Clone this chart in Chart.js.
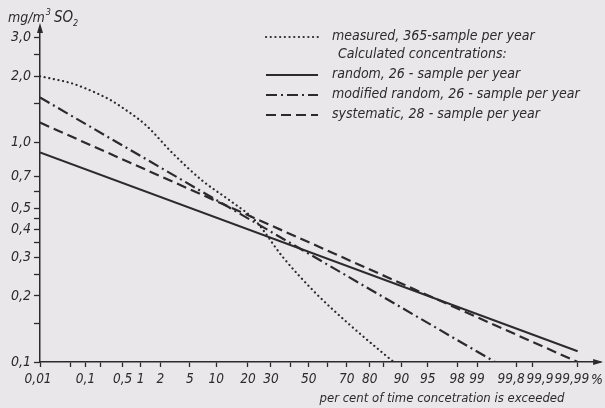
<!DOCTYPE html>
<html><head><meta charset="utf-8">
<script src="https://cdn.jsdelivr.net/npm/chart.js@4/dist/chart.umd.min.js"></script>
<style>html,body{margin:0;padding:0;background:#e9e7ea;}#wrap{width:605px;height:408px;position:relative}</style>
</head><body><div id="wrap"><canvas id="c" width="605" height="408"></canvas></div>
<script>
// ---- data (percent of time exceeded, concentration mg/m3) ----
const measuredPct = [0.01, 0.05, 0.1, 0.3, 0.6, 1.2, 3, 7, 14, 23, 36, 54, 71, 85, 88];
const measuredVal = [2.0, 1.86, 1.76, 1.56, 1.39, 1.2, 0.89, 0.67, 0.54, 0.44, 0.30, 0.205, 0.149, 0.109, 0.10];
const randomPct = [0.01, 99.99];
const randomVal = [0.90, 0.112];
const modifiedPct = [0.01, 99.5];
const modifiedVal = [1.60, 0.10];
const systematicPct = [0.01, 99.99];
const systematicVal = [1.23, 0.10];
const xTickPct = [0.01, 0.05, 0.1, 0.2, 0.5, 1, 2, 5, 10, 20, 30, 40, 50, 60, 70, 80, 85, 90, 95, 98, 99, 99.8, 99.9, 99.99];
const xTickLabels = {0.01:'0,01 ', 0.1:'0,1', 0.5:'0,5', 1:'1', 2:'2', 5:'5', 10:'10', 20:'20', 30:'30', 50:'50', 70:'70', 80:'80', 90:'90', 95:'95', 98:'98', 99:'99', 99.8:'99,8   ', 99.9:'    99,9', 99.99:'99,99   '};
const yTickVals = [3.0, 2.5, 2.0, 1.5, 1.0, 0.7, 0.6, 0.5, 0.45, 0.4, 0.35, 0.3, 0.25, 0.2, 0.15, 0.1];
const yTickLabels = {3:'3,0', 2:'2,0', 1:'1,0', 0.7:'0,7', 0.5:'0,5', 0.4:'0,4', 0.3:'0,3', 0.2:'0,2', 0.1:'0,1'};
const legendTexts = ['measured, 365-sample per year', 'Calculated concentrations:', 'random, 26 - sample per year', 'modified random, 26 - sample per year', 'systematic, 28 - sample per year'];
const yTitle = ['mg/m', '3', 'SO', '2'];
const xTitle = 'per cent of time concetration is exceeded';

// probability-paper transform: percent -> standard normal quantile
function probit(p){
  const a=[-3.969683028665376e+01,2.209460984245205e+02,-2.759285104469687e+02,1.383577518672690e+02,-3.066479806614716e+01,2.506628277459239e+00];
  const b=[-5.447609879822406e+01,1.615858368580409e+02,-1.556989798598866e+02,6.680131188771972e+01,-1.328068155288572e+01];
  const c=[-7.784894002430293e-03,-3.223964580411365e-01,-2.400758277161838e+00,-2.549732539343734e+00,4.374664141464968e+00,2.938163982698783e+00];
  const d=[7.784695709041462e-03,3.224671290700398e-01,2.445134137142996e+00,3.754408661907416e+00];
  const pl=0.02425, ph=1-pl; let q,r;
  if(p<pl){q=Math.sqrt(-2*Math.log(p));return (((((c[0]*q+c[1])*q+c[2])*q+c[3])*q+c[4])*q+c[5])/((((d[0]*q+d[1])*q+d[2])*q+d[3])*q+1);}
  if(p<=ph){q=p-0.5;r=q*q;return (((((a[0]*r+a[1])*r+a[2])*r+a[3])*r+a[4])*r+a[5])*q/(((((b[0]*r+b[1])*r+b[2])*r+b[3])*r+b[4])*r+1);}
  q=Math.sqrt(-2*Math.log(1-p));return -(((((c[0]*q+c[1])*q+c[2])*q+c[3])*q+c[4])*q+c[5])/((((d[0]*q+d[1])*q+d[2])*q+d[3])*q+1);
}
const pts = (P, V) => P.map((p, i) => ({x: probit(p/100), y: V[i]}));

const INK = '#2b2a2c';
const FONT = "'DejaVu Sans Condensed','Liberation Sans Narrow','Roboto','DejaVu Sans',sans-serif";

const decor = {
  id: 'decor',
  afterDraw(chart){
    const ctx = chart.ctx, ca = chart.chartArea;
    ctx.save();
    ctx.fillStyle = INK; ctx.strokeStyle = INK;
    // arrows
    ctx.beginPath(); ctx.moveTo(ca.left, ca.top - 5); ctx.lineTo(ca.left - 3, ca.top + 5); ctx.lineTo(ca.left + 3, ca.top + 5); ctx.closePath(); ctx.fill();
    ctx.beginPath(); ctx.moveTo(ca.right + 3, ca.bottom); ctx.lineTo(ca.right - 7, ca.bottom - 3); ctx.lineTo(ca.right - 7, ca.bottom + 3); ctx.closePath(); ctx.fill();
    // y title
    ctx.textBaseline = 'alphabetic'; ctx.textAlign = 'left';
    let x = 8;
    ctx.font = 'italic 14px ' + FONT; ctx.fillText(yTitle[0], x, 22); x += ctx.measureText(yTitle[0]).width;
    ctx.font = 'italic 9px ' + FONT; ctx.fillText(yTitle[1], x + 1, 15); x += ctx.measureText(yTitle[1]).width + 4;
    ctx.font = 'italic 15px ' + FONT; ctx.fillText(yTitle[2], x, 22); x += ctx.measureText(yTitle[2]).width;
    ctx.font = 'italic 9px ' + FONT; ctx.fillText(yTitle[3], x, 26);
    // x title and %
    ctx.font = 'italic 13px ' + FONT; ctx.textAlign = 'center'; ctx.textBaseline = 'middle';
    ctx.fillText(xTitle, 442, 399);
    ctx.font = 'italic 14px ' + FONT; ctx.fillText('%', 597, 380);
    // legend
    const rows = [{y:36, ds:0}, {y:54.5}, {y:74, ds:1}, {y:94, ds:2}, {y:114, ds:3}];
    ctx.textAlign = 'left';
    rows.forEach((r, i) => {
      if (r.ds !== undefined) {
        const d = chart.data.datasets[r.ds];
        ctx.save();
        ctx.lineWidth = d.borderWidth; ctx.lineCap = d.borderCapStyle || 'butt';
        ctx.setLineDash(d.borderDash || []);
        ctx.beginPath(); ctx.moveTo(266, r.y + 1); ctx.lineTo(318, r.y + 1); ctx.stroke();
        ctx.restore();
      }
      ctx.font = 'italic 14px ' + FONT;
      ctx.fillText(legendTexts[i], r.ds === undefined ? 338 : 332, r.y);
    });
    ctx.restore();
  }
};

new Chart(document.getElementById('c'), {
  type: 'scatter',
  data: { datasets: [
    { label: 'measured', data: pts(measuredPct, measuredVal), showLine: true, borderColor: INK, borderWidth: 2.2, borderDash: [0.1, 4.6], borderCapStyle: 'round', pointRadius: 0, tension: 0.4, cubicInterpolationMode: 'monotone' },
    { label: 'random', data: pts(randomPct, randomVal), showLine: true, borderColor: INK, borderWidth: 2, pointRadius: 0 },
    { label: 'modified random', data: pts(modifiedPct, modifiedVal), showLine: true, borderColor: INK, borderWidth: 2.2, borderDash: [11, 4, 2, 4], pointRadius: 0 },
    { label: 'systematic', data: pts(systematicPct, systematicVal), showLine: true, borderColor: INK, borderWidth: 2.2, borderDash: [10, 5], pointRadius: 0 }
  ]},
  options: {
    responsive: false, animation: false,
    layout: { padding: { top: 28, right: 4, left: 0, bottom: 0 } },
    plugins: { legend: { display: false }, tooltip: { enabled: false } },
    scales: {
      x: {
        type: 'linear', bounds: 'data', min: probit(0.0001), max: 4.03,
        afterBuildTicks: s => { s.ticks = xTickPct.map(p => ({ value: probit(p / 100) })); },
        afterFit: s => { s.height = 46; },
        grid: { drawOnChartArea: false, drawTicks: true, tickLength: 5, tickColor: INK, tickWidth: 1.3 },
        border: { display: true, color: INK, width: 1.5 },
        ticks: { autoSkip: false, maxRotation: 0, minRotation: 0, padding: 4, color: INK,
          font: { family: FONT, size: 13.5, style: 'italic' },
          callback: (v, i) => xTickLabels[xTickPct[i]] || '' }
      },
      y: {
        type: 'logarithmic', bounds: 'data', min: 0.1, max: 3.315,
        afterBuildTicks: s => { s.ticks = yTickVals.map(v => ({ value: v })); },
        afterFit: s => { s.width = 40; },
        grid: { drawOnChartArea: false, drawTicks: true, tickLength: 6, tickColor: INK, tickWidth: 1.3 },
        border: { display: true, color: INK, width: 1.5 },
        ticks: { autoSkip: false, padding: 3, color: INK,
          font: { family: FONT, size: 14, style: 'italic' },
          callback: (v, i) => yTickLabels[yTickVals[i]] || '' }
      }
    }
  },
  plugins: [decor]
});
</script></body></html>
